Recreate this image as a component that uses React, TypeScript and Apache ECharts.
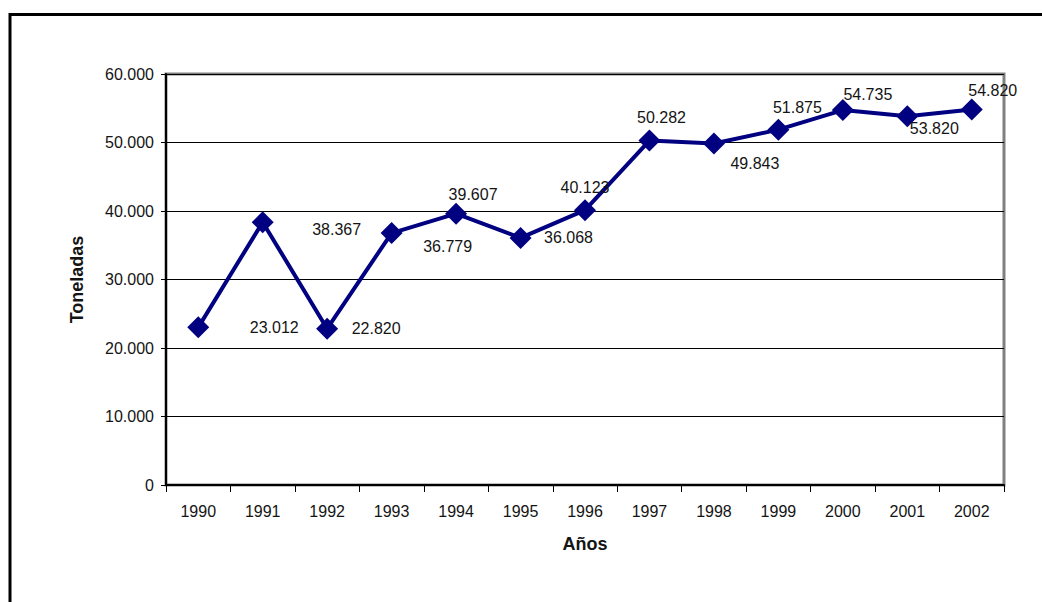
import React, { useEffect, useRef } from "react";
import * as echarts from "echarts";

const years = ["1990", "1991", "1992", "1993", "1994", "1995", "1996", "1997", "1998", "1999", "2000", "2001", "2002"];
const tonnes = [23012, 38367, 22820, 36779, 39607, 36068, 40123, 50282, 49843, 51875, 54735, 53820, 54820];
const labelOffsets: [number, number][] = [
  [76, 0], [74, 7], [49, 0], [56, 13], [17, -19], [48, 0], [0, -23],
  [12, -23], [41, 20], [19, -22], [25, -16], [27, 12], [21, -19],
];
const yTitle = "Toneladas";
const xTitle = "Años";

const fmt = (v: number) => (v === 0 ? "0" : String(v).replace(/\B(?=(\d{3})+(?!\d))/g, "."));

const FONT = "'Liberation Sans', Arial, sans-serif";
const TXT = "#141414";

export default function App() {
  const ref = useRef<HTMLDivElement>(null);
  useEffect(() => {
    if (!ref.current) return;
    const chart = echarts.init(ref.current, undefined, { renderer: "svg" });
    chart.setOption({
      animation: false,
      backgroundColor: "#ffffff",
      textStyle: { fontFamily: FONT },
      grid: {
        left: 166, right: 38, top: 74, bottom: 117,
        show: true, borderColor: "#808080", borderWidth: 3, backgroundColor: "#ffffff",
      },
      graphic: [
        {
          type: "polyline",
          shape: { points: [[10, 602], [10, 14.5], [1042, 14.5]] },
          style: { stroke: "#000", lineWidth: 3, fill: "none" },
          z: 10,
        },
      ],
      xAxis: {
        type: "category",
        data: years,
        boundaryGap: true,
        name: xTitle,
        nameLocation: "middle",
        nameGap: 50,
        nameTextStyle: { fontFamily: FONT, fontSize: 18, fontWeight: "bold", color: TXT },
        axisLine: { show: true, lineStyle: { color: "#000", width: 2 } },
        axisTick: { show: true, interval: 0, alignWithLabel: false, length: 7, inside: false, lineStyle: { color: "#000", width: 1 } },
        axisLabel: { interval: 0, margin: 18, fontFamily: FONT, fontSize: 16, color: TXT },
        splitLine: { show: false },
      },
      yAxis: {
        type: "value",
        min: 0, max: 60000, interval: 10000,
        name: yTitle,
        nameLocation: "middle",
        nameGap: 80,
        nameRotate: 90,
        nameTextStyle: { fontFamily: FONT, fontSize: 18, fontWeight: "bold", color: TXT },
        axisLine: { show: true, lineStyle: { color: "#000", width: 2 } },
        axisTick: { show: true, length: 5, lineStyle: { color: "#000", width: 1 } },
        axisLabel: { margin: 12, fontFamily: FONT, fontSize: 16, color: TXT, formatter: (v: number) => fmt(v) },
        splitLine: { show: true, lineStyle: { color: "#000", width: 1 } },
      },
      series: [
        {
          type: "line",
          data: tonnes.map((v, i) => ({
            value: v,
            label: { offset: labelOffsets[i] },
          })),
          symbol: "diamond",
          symbolSize: 22,
          lineStyle: { color: "#000080", width: 4 },
          itemStyle: { color: "#000080" },
          label: {
            show: true,
            position: "inside",
            fontFamily: FONT,
            fontSize: 16,
            color: TXT,
            formatter: (p: any) => fmt(p.value),
          },
          z: 5,
        },
      ],
    });
    return () => chart.dispose();
  }, []);
  return <div ref={ref} style={{ position: "absolute", left: 0, top: 0, width: 1042, height: 602 }} />;
}
